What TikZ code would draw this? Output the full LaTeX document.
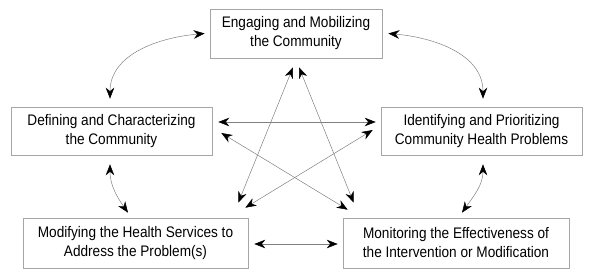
\documentclass[tikz,border=0pt]{standalone}
\usepackage{fontspec}
\setmainfont{Liberation Sans}[FakeStretch=0.89]
\usetikzlibrary{arrows.meta}
\begin{document}
\begin{tikzpicture}[x=1pt,y=1pt,
  >={Stealth[length=11pt,width=8.5pt,inset=3.5pt,color=black]},
  box/.style={draw=gray!70,line width=0.6pt,rectangle,align=center,inner sep=0pt,font=\fontsize{15.3}{19}\selectfont},
  link/.style={<->,draw=gray,line width=0.5pt}]
\useasboundingbox (0,0) rectangle (590,278);
\node[box,minimum width=172pt,minimum height=49pt] (eng) at (296,244.5) {Engaging and Mobilizing\\the Community};
\node[box,minimum width=201pt,minimum height=48pt] (def) at (111.5,147) {Defining and Characterizing\\the Community};
\node[box,minimum width=201pt,minimum height=48pt] (idf) at (481.5,147) {Identifying and Prioritizing\\Community Health Problems};

\node[box,minimum width=225pt,minimum height=50pt] (mod) at (135.5,35) {Modifying the Health Services to\\Address the Problem(s)};
\node[box,minimum width=226pt,minimum height=50pt] (mon) at (456,35) {Monitoring the Effectiveness of\\the Intervention or Modification};

% outer ring
\draw[link] ([xshift=-1.5pt,yshift=8pt]def.north) to[out=90,in=185] ([xshift=-5pt]eng.west);
\draw[link] ([xshift=6pt]eng.east) to[out=-5,in=90] ([xshift=1.5pt,yshift=8pt]idf.north);
\draw[link] ([xshift=-1.5pt,yshift=-9pt]def.south) to[out=-90,in=125] ([xshift=-7.5pt,yshift=5pt]mod.north);
\draw[link] ([xshift=1.5pt,yshift=-9pt]idf.south) to[out=-90,in=55] ([xshift=6pt,yshift=5pt]mon.north);
\draw[link] ([xshift=6pt,yshift=-1pt]mod.east) -- ([xshift=-5pt,yshift=-1pt]mon.west);

% star
\draw[link] ([xshift=6pt,yshift=9pt]def.east) -- ([xshift=-5pt,yshift=9pt]idf.west);
\draw[link] ([xshift=9pt,yshift=-2pt]def.east) -- ([xshift=5pt,yshift=8pt]mon.north west);
\draw[link] ([xshift=-8pt,yshift=1pt]idf.west) -- ([xshift=-3pt,yshift=10pt]mod.north east);
\draw[link] ([xshift=-3pt,yshift=-9pt]eng.south) -- ([xshift=-10pt,yshift=15pt]mod.north east);
\draw[link] ([xshift=3pt,yshift=-9pt]eng.south) -- ([xshift=11pt,yshift=15pt]mon.north west);
\end{tikzpicture}
\end{document}
